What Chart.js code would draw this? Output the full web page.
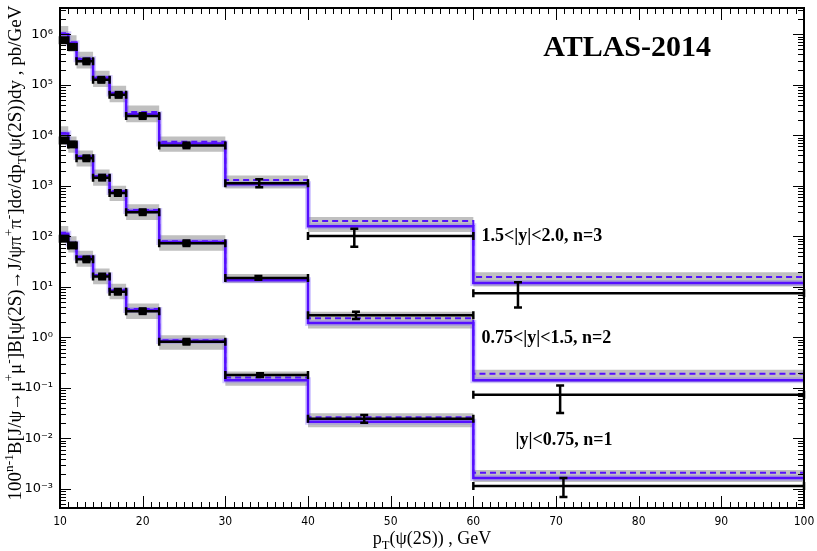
<!DOCTYPE html>
<html>
<head>
<meta charset="utf-8">
<script src="https://cdn.jsdelivr.net/npm/chart.js@4.4.1/dist/chart.umd.min.js"></script>
<style>
  html, body { margin: 0; padding: 0; background: #fff; }
</style>
</head>
<body>
<canvas id="myChart" width="817" height="551"></canvas>
<script>
// pT bin edges, GeV
const binEdges = [10, 11, 12, 14, 16, 18, 22, 30, 40, 60, 100];
const yTickExps = [-3, -2, -1, 0, 1, 2, 3, 4, 5, 6];

// 1.5<|y|<2.0, scaled by 100^2
const n3Theory = [1.0e6, 6.6e5, 3.2e5, 1.36e5, 6.7e4, 2.6e4, 6.9e3, 1.07e3, 158, 11.9];
const n3Dashed = [1.05e6, 6.9e5, 3.3e5, 1.4e5, 6.9e4, 2.9e4, 7.4e3, 1.3e3, 201, 15.6];
const n3BandHi = [1.45e6, 9.5e5, 4.5e5, 1.9e5, 9.5e4, 3.9e4, 9.5e3, 1.6e3, 240, 19.5];
const n3BandLo = [6.5e5, 4.5e5, 2.1e5, 9.0e4, 4.5e4, 1.8e4, 4.7e3, 880, 122, 10.2];
const n3X = [10.4, 11.4, 13.2, 15.0, 17.1, 20.0, 25.3, 34.1, 45.6, 65.4];
const n3Data = [7.6e5, 5.6e5, 2.9e5, 1.25e5, 6.3e4, 2.4e4, 6.3e3, 1.12e3, 101, 7.5];
const n3ErrLo = [7.0e5, 5.2e5, 2.7e5, 1.16e5, 5.9e4, 2.25e4, 5.9e3, 940, 62, 3.9];
const n3ErrHi = [8.2e5, 6.0e5, 3.1e5, 1.34e5, 6.7e4, 2.55e4, 6.7e3, 1.35e3, 141, 12.4];

// 0.75<|y|<1.5, scaled by 100
const n2Theory = [1.08e4, 6.9e3, 3.7e3, 1.54e3, 754, 316, 77, 13.5, 1.92, 0.141];
const n2Dashed = [1.1e4, 7.1e3, 3.8e3, 1.6e3, 790, 330, 80, 15.0, 2.4, 0.191];
const n2BandHi = [1.5e4, 9.5e3, 5.0e3, 2.1e3, 1.0e3, 430, 105, 18.0, 3.2, 0.23];
const n2BandLo = [7.0e3, 4.5e3, 2.4e3, 1.0e3, 500, 210, 52, 11.9, 1.49, 0.13];
const n2X = [10.4, 11.4, 13.2, 15.1, 17.0, 20.0, 25.3, 34.0, 45.8, 70.5];
const n2Data = [7.9e3, 6.6e3, 3.5e3, 1.45e3, 720, 300, 73, 15.0, 2.75, 0.073];
const n2ErrLo = [7.3e3, 6.1e3, 3.25e3, 1.35e3, 670, 280, 68, 13.8, 2.3, 0.032];
const n2ErrHi = [8.5e3, 7.1e3, 3.75e3, 1.55e3, 770, 320, 78, 16.3, 3.2, 0.112];

// |y|<0.75
const n1Theory = [113, 72, 38, 16.9, 8.5, 3.5, 0.845, 0.141, 0.0214, 0.00164];
const n1Dashed = [118, 75, 40, 17.6, 8.9, 3.65, 0.88, 0.16, 0.0264, 0.0021];
const n1BandHi = [160, 100, 52, 23, 11.5, 4.7, 1.1, 0.21, 0.0315, 0.00238];
const n1BandLo = [75, 48, 25, 11.3, 5.7, 2.3, 0.57, 0.11, 0.0166, 0.00137];
const n1X = [10.4, 11.5, 13.2, 15.1, 17.0, 20.0, 25.3, 34.2, 46.8, 70.9];
const n1Data = [90, 66, 35, 16, 8.0, 3.3, 0.82, 0.18, 0.0245, 0.00114];
const n1ErrLo = [83, 61, 32.5, 14.9, 7.4, 3.05, 0.76, 0.165, 0.0205, 0.00069];
const n1ErrHi = [97, 71, 37.5, 17.1, 8.6, 3.55, 0.88, 0.195, 0.029, 0.00164];

// annotations: [text, x, y] in data units
const rangeLabels = [
  ['1.5<|y|<2.0, n=3', 61.0, 105],
  ['0.75<|y|<1.5, n=2', 61.0, 1.0],
  ['|y|<0.75, n=1', 65.1, 0.0098]
];

const BLUE = 'rgb(85, 15, 255)';
const GREY = 'rgb(192, 192, 192)';

// turn bin contents into points for a stepped line
function steps(vals) {
  const pts = vals.map((v, i) => ({ x: binEdges[i], y: v }));
  pts.push({ x: binEdges[binEdges.length - 1], y: vals[vals.length - 1] });
  return pts;
}

function setDatasets(theory, dashed, hi, lo) {
  return [
    { data: steps(dashed), borderColor: BLUE, borderWidth: 2, borderDash: [6, 4], stepped: 'before', pointRadius: 0, fill: false },
    { data: steps(theory), borderColor: BLUE, borderWidth: 2.5, stepped: 'before', pointRadius: 0, fill: false },
    { data: steps(theory), borderColor: 'rgba(120, 90, 255, 0.3)', borderWidth: 6, stepped: 'before', pointRadius: 0, fill: false },
    { data: steps(hi), borderWidth: 0, borderColor: 'rgba(0,0,0,0)', backgroundColor: GREY, stepped: 'before', pointRadius: 0, fill: '+1' },
    { data: steps(lo), borderWidth: 0, borderColor: 'rgba(0,0,0,0)', stepped: 'before', pointRadius: 0, fill: false }
  ];
}

const measured = [
  { x: n3X, y: n3Data, lo: n3ErrLo, hi: n3ErrHi },
  { x: n2X, y: n2Data, lo: n2ErrLo, hi: n2ErrHi },
  { x: n1X, y: n1Data, lo: n1ErrLo, hi: n1ErrHi }
];

// text with super/subscripts, drawn left to right from (0,0) baseline
function richWidth(ctx, segs, size, family) {
  let w = 0;
  segs.forEach(s => {
    const fs = s.sup || s.sub ? size * 0.7 : size;
    ctx.font = fs + 'px ' + family;
    w += ctx.measureText(s.t).width;
  });
  return w;
}
function drawRich(ctx, segs, size, family) {
  let x = 0;
  segs.forEach(s => {
    const fs = s.sup || s.sub ? size * 0.7 : size;
    ctx.font = fs + 'px ' + family;
    const dy = s.sup ? -size * 0.4 : (s.sub ? size * 0.28 : 0);
    ctx.fillText(s.t, x, dy);
    x += ctx.measureText(s.t).width;
  });
}

const yTitle = [
  { t: '100' }, { t: 'n-1', sup: true }, { t: 'B[J/\u03c8\u2192\u03bc' }, { t: '+', sup: true },
  { t: '\u03bc' }, { t: '-', sup: true }, { t: ']B[\u03c8(2S)\u2192J/\u03c8\u03c0' }, { t: '+', sup: true },
  { t: '\u03c0' }, { t: '-', sup: true }, { t: ']d\u03c3/dp' }, { t: 'T', sub: true },
  { t: '(\u03c8(2S))dy , pb/GeV' }
];
const xTitle = [{ t: 'p' }, { t: 'T', sub: true }, { t: '(\u03c8(2S)) , GeV' }];

const errorBars = {
  id: 'errorBars',
  afterDatasetsDraw(chart) {
    const ctx = chart.ctx, xs = chart.scales.x, ys = chart.scales.y;
    ctx.save();
    ctx.strokeStyle = '#000';
    ctx.fillStyle = '#000';
    ctx.lineWidth = 2.5;
    measured.forEach(m => {
      m.y.forEach((v, i) => {
        const x0 = xs.getPixelForValue(binEdges[i]);
        const x1 = xs.getPixelForValue(binEdges[i + 1]);
        const xc = xs.getPixelForValue(m.x[i]);
        const yc = ys.getPixelForValue(v);
        const ylo = ys.getPixelForValue(m.lo[i]);
        const yhi = ys.getPixelForValue(m.hi[i]);
        ctx.beginPath();
        ctx.moveTo(x0, yc); ctx.lineTo(x1, yc);
        ctx.moveTo(x0, yc - 4); ctx.lineTo(x0, yc + 4);
        ctx.moveTo(x1, yc - 4); ctx.lineTo(x1, yc + 4);
        ctx.moveTo(xc, ylo); ctx.lineTo(xc, yhi);
        ctx.moveTo(xc - 4, ylo); ctx.lineTo(xc + 4, ylo);
        ctx.moveTo(xc - 4, yhi); ctx.lineTo(xc + 4, yhi);
        ctx.stroke();
        if (binEdges[i + 1] - binEdges[i] <= 8) {
          ctx.fillRect(xc - 4, yc - 4, 8, 8);
        }
      });
    });
    ctx.restore();
  }
};

const frameAndText = {
  id: 'frameAndText',
  afterDraw(chart) {
    const ctx = chart.ctx, a = chart.chartArea, xs = chart.scales.x, ys = chart.scales.y;
    ctx.save();
    ctx.strokeStyle = '#000';
    ctx.lineWidth = 1;
    // inward ticks on all four sides
    ctx.beginPath();
    for (let v = 10; v <= 100; v++) {
      const px = Math.round(xs.getPixelForValue(v)) + 0.5;
      const len = v % 10 === 0 ? 12 : 6;
      ctx.moveTo(px, a.bottom); ctx.lineTo(px, a.bottom - len);
      ctx.moveTo(px, a.top); ctx.lineTo(px, a.top + len);
    }
    for (let e = -4; e <= 6; e++) {
      for (let k = 1; k <= 9; k++) {
        const v = k * Math.pow(10, e);
        if (v < ys.min || v > ys.max) continue;
        const py = Math.round(ys.getPixelForValue(v)) + 0.5;
        const len = k === 1 ? 11 : 6;
        ctx.moveTo(a.left, py); ctx.lineTo(a.left + len, py);
        ctx.moveTo(a.right, py); ctx.lineTo(a.right - len, py);
      }
    }
    ctx.stroke();
    ctx.lineWidth = 2;
    ctx.strokeRect(a.left, a.top, a.right - a.left, a.bottom - a.top);

    ctx.fillStyle = '#000';
    ctx.textBaseline = 'alphabetic';
    const serif = '"Liberation Serif", "DejaVu Serif", serif';
    ctx.font = 'bold 30px ' + serif;
    ctx.textAlign = 'center';
    ctx.fillText('ATLAS-2014', xs.getPixelForValue(78.6), ys.getPixelForValue(3.7e5));

    ctx.font = 'bold 18px ' + serif;
    ctx.textAlign = 'left';
    rangeLabels.forEach(l => {
      ctx.fillText(l[0], xs.getPixelForValue(l[1]), ys.getPixelForValue(l[2]) + 6);
    });

    // axis titles
    const fs = 19;
    const xw = richWidth(ctx, xTitle, 18, serif);
    ctx.save();
    ctx.translate((a.left + a.right) / 2 - xw / 2, 544);
    drawRich(ctx, xTitle, 18, serif);
    ctx.restore();

    const yw = richWidth(ctx, yTitle, fs, serif);
    ctx.save();
    ctx.translate(21, 253 + yw / 2);
    ctx.rotate(-Math.PI / 2);
    drawRich(ctx, yTitle, fs, serif);
    ctx.restore();
    ctx.restore();
  }
};

const supDigits = { '-': '\u207b', '0': '\u2070', '1': '\u00b9', '2': '\u00b2', '3': '\u00b3', '4': '\u2074', '5': '\u2075', '6': '\u2076', '7': '\u2077', '8': '\u2078', '9': '\u2079' };

const ctx = document.getElementById('myChart').getContext('2d');
const myChart = new Chart(ctx, {
  type: 'line',
  data: {
    datasets: [
      ...setDatasets(n3Theory, n3Dashed, n3BandHi, n3BandLo),
      ...setDatasets(n2Theory, n2Dashed, n2BandHi, n2BandLo),
      ...setDatasets(n1Theory, n1Dashed, n1BandHi, n1BandLo)
    ]
  },
  options: {
    responsive: false,
    animation: false,
    events: [],
    layout: { padding: { left: 0, top: 8, right: 13, bottom: 0 } },
    plugins: {
      legend: { display: false },
      tooltip: { enabled: false },
      filler: { drawTime: 'beforeDatasetsDraw' }
    },
    scales: {
      x: {
        type: 'linear',
        min: 10,
        max: 100,
        grid: { display: false, drawTicks: false },
        border: { display: false },
        afterFit: s => { s.height = 43; s.paddingLeft = 0; s.paddingRight = 0; },
        ticks: {
          stepSize: 10,
          padding: 7,
          color: '#000',
          font: { family: '"DejaVu Sans Condensed", "DejaVu Sans", sans-serif', size: 12 }
        }
      },
      y: {
        type: 'logarithmic',
        min: 4.2e-4,
        max: 3.3e6,
        grid: { display: false, drawTicks: false },
        border: { display: false },
        afterFit: s => { s.width = 60; s.paddingTop = 0; s.paddingBottom = 0; },
        afterBuildTicks: s => { s.ticks = yTickExps.map(e => ({ value: Math.pow(10, e) })); },
        ticks: {
          padding: 7,
          color: '#000',
          font: { family: '"DejaVu Sans", sans-serif', size: 13 },
          callback: v => '10' + String(Math.round(Math.log10(v))).split('').map(c => supDigits[c]).join('')
        }
      }
    }
  },
  plugins: [errorBars, frameAndText]
});
</script>
</body>
</html>
